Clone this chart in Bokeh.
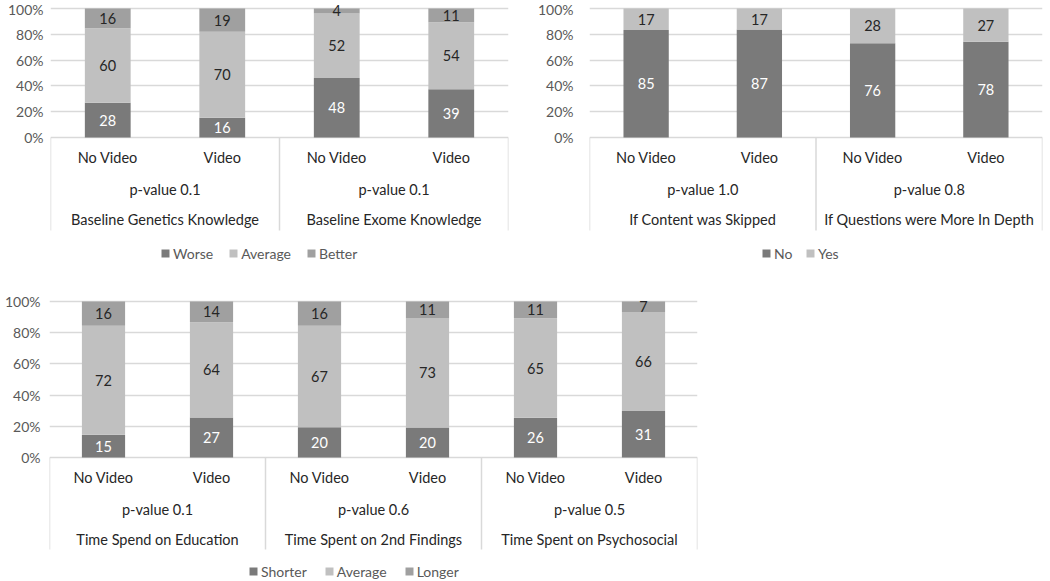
import numpy as np
from bokeh.plotting import figure
from bokeh.models import (ColumnDataSource, FixedTicker, NumeralTickFormatter,
                          Legend, LegendItem, Range1d)
from bokeh.layouts import column, row
from bokeh.embed import file_html
from bokeh.resources import INLINE
from bokeh.core.properties import value

# ---------------- data ----------------
arms = ["No Video", "Video"]
y_ticks = [0, 0.2, 0.4, 0.6, 0.8, 1.0]

tl_groups = ["Baseline Genetics Knowledge", "Baseline Exome Knowledge"]
tl_pvals = ["p-value 0.1", "p-value 0.1"]
tl_series = ["Worse", "Average", "Better"]
tl_worse = [28, 16, 48, 39]
tl_average = [60, 70, 52, 54]
tl_better = [16, 19, 4, 11]

tr_groups = ["If Content was Skipped", "If Questions were More In Depth"]
tr_pvals = ["p-value 1.0", "p-value 0.8"]
tr_series = ["No", "Yes"]
tr_no = [85, 87, 76, 78]
tr_yes = [17, 17, 28, 27]

b_groups = ["Time Spend on Education", "Time Spent on 2nd Findings",
            "Time Spent on Psychosocial"]
b_pvals = ["p-value 0.1", "p-value 0.6", "p-value 0.5"]
b_series = ["Shorter", "Average", "Longer"]
b_shorter = [15, 27, 20, 20, 26, 31]
b_average = [72, 64, 67, 73, 65, 66]
b_longer = [16, 14, 16, 11, 11, 7]

# ---------------- style ----------------
FONT = "Lato"
FS = "14.5px"
FS_AX = "14px"
DARK, LIGHT, MID = "#7a7a7a", "#c0c0c0", "#a0a0a0"
GRID = "#d9d9d9"
TXT = "#262626"
AXT = "#595959"


def build(groups, pvals, series_vals, series_names, colors, label_colors,
          fig_w, fig_h, b_left, b_right, top_rel, one_rel, zero_rel,
          arm_rel, p_rel, name_rel, box_rel, legend_x, legend_cy,
          standoff, spacing):
    n = len(groups) * len(arms)
    unit = float(zero_rel - one_rel)
    y_end = (zero_rel - top_rel) / unit
    y_start = -(fig_h - zero_rel) / unit

    def to_y(rel):
        return (zero_rel - rel) / unit

    p = figure(width=fig_w, height=fig_h, x_range=Range1d(0, n),
               y_range=Range1d(y_start, y_end), output_backend="svg",
               toolbar_location=None, x_axis_location=None,
               min_border_left=b_left, min_border_right=b_right,
               min_border_top=top_rel, min_border_bottom=0)
    p.outline_line_color = None
    p.xgrid.visible = False
    p.ygrid.ticker = FixedTicker(ticks=y_ticks)
    p.ygrid.grid_line_color = GRID
    p.ygrid.grid_line_width = 1.3
    ax = p.yaxis[0]
    ax.ticker = FixedTicker(ticks=y_ticks)
    ax.formatter = NumeralTickFormatter(format="0%")
    ax.axis_line_color = None
    ax.major_tick_line_color = None
    ax.minor_tick_line_color = None
    ax.major_tick_out = 0
    ax.major_tick_in = 0
    ax.minor_tick_out = 0
    ax.minor_tick_in = 0
    ax.major_label_text_font = FONT
    ax.major_label_text_font_size = FS_AX
    ax.major_label_text_color = AXT
    ax.major_label_standoff = standoff

    vals = np.array(series_vals, dtype=float)
    totals = vals.sum(axis=0)
    frac = vals / totals
    tops = np.cumsum(frac, axis=0)
    bottoms = tops - frac
    xs = np.arange(n) + 0.5

    # category box separators
    sep = np.arange(len(groups) + 1) * len(arms)
    p.segment(x0=sep, y0=[0] * len(sep), x1=sep,
              y1=[to_y(box_rel)] * len(sep), line_color=GRID, line_width=1.5)

    items = []
    for k, name in enumerate(series_names):
        src = ColumnDataSource(dict(
            x=xs, bottom=bottoms[k], top=tops[k],
            mid=(bottoms[k] + tops[k]) / 2,
            lab=[str(int(v)) for v in vals[k]]))
        r = p.vbar(x="x", bottom="bottom", top="top", width=0.4, source=src,
                   fill_color=colors[k], line_color=None)
        p.text(x="x", y="mid", text="lab", source=src, text_align="center",
               text_baseline="middle", text_color=label_colors[k],
               text_font=value(FONT), text_font_size=value(FS))
        items.append(LegendItem(label=name, renderers=[r]))

    arm_labels = arms * len(groups)
    p.text(x=list(xs), y=[to_y(arm_rel)] * n, text=arm_labels,
           text_align="center", text_baseline="middle", text_color=TXT,
           text_font=value(FONT), text_font_size=value(FS))
    gx = list(np.arange(len(groups)) * len(arms) + len(arms) / 2)
    p.text(x=gx, y=[to_y(p_rel)] * len(groups), text=pvals,
           text_align="center", text_baseline="middle", text_color=TXT,
           text_font=value(FONT), text_font_size=value(FS))
    p.text(x=gx, y=[to_y(name_rel)] * len(groups), text=groups,
           text_align="center", text_baseline="middle", text_color=TXT,
           text_font=value(FONT), text_font_size=value(FS))

    leg_h = 17
    legend = Legend(items=items,
                    location=(legend_x, fig_h - legend_cy - leg_h / 2),
                    orientation="horizontal", glyph_width=10, glyph_height=10,
                    label_standoff=3, spacing=spacing, padding=0, margin=0,
                    border_line_color=None, background_fill_alpha=0,
                    label_text_font=FONT, label_text_font_size=FS_AX,
                    label_text_color=AXT, label_height=leg_h)
    p.add_layout(legend)
    return p


p_tl = build(tl_groups, tl_pvals, [tl_worse, tl_average, tl_better],
             tl_series, [DARK, LIGHT, MID], ["white", TXT, TXT],
             fig_w=520, fig_h=262, b_left=50, b_right=12, top_rel=0,
             one_rel=8, zero_rel=137, arm_rel=157, p_rel=189, name_rel=219,
             box_rel=230, legend_x=110, legend_cy=253, standoff=7, spacing=15)

p_tr = build(tr_groups, tr_pvals, [tr_no, tr_yes], tr_series,
             [DARK, LIGHT], ["white", TXT],
             fig_w=530, fig_h=262, b_left=69, b_right=8, top_rel=0,
             one_rel=8, zero_rel=137, arm_rel=157, p_rel=189, name_rel=219,
             box_rel=230, legend_x=172, legend_cy=253, standoff=16, spacing=11)

p_b = build(b_groups, b_pvals, [b_shorter, b_average, b_longer], b_series,
            [DARK, LIGHT, MID], ["white", TXT, TXT],
            fig_w=710, fig_h=318, b_left=49, b_right=13, top_rel=30,
            one_rel=39, zero_rel=195, arm_rel=215, p_rel=247, name_rel=277,
            box_rel=287, legend_x=199, legend_cy=309, standoff=9, spacing=17)

layout = column(row(p_tl, p_tr), p_b)

open("out.html", "w").write(file_html(layout, INLINE))
